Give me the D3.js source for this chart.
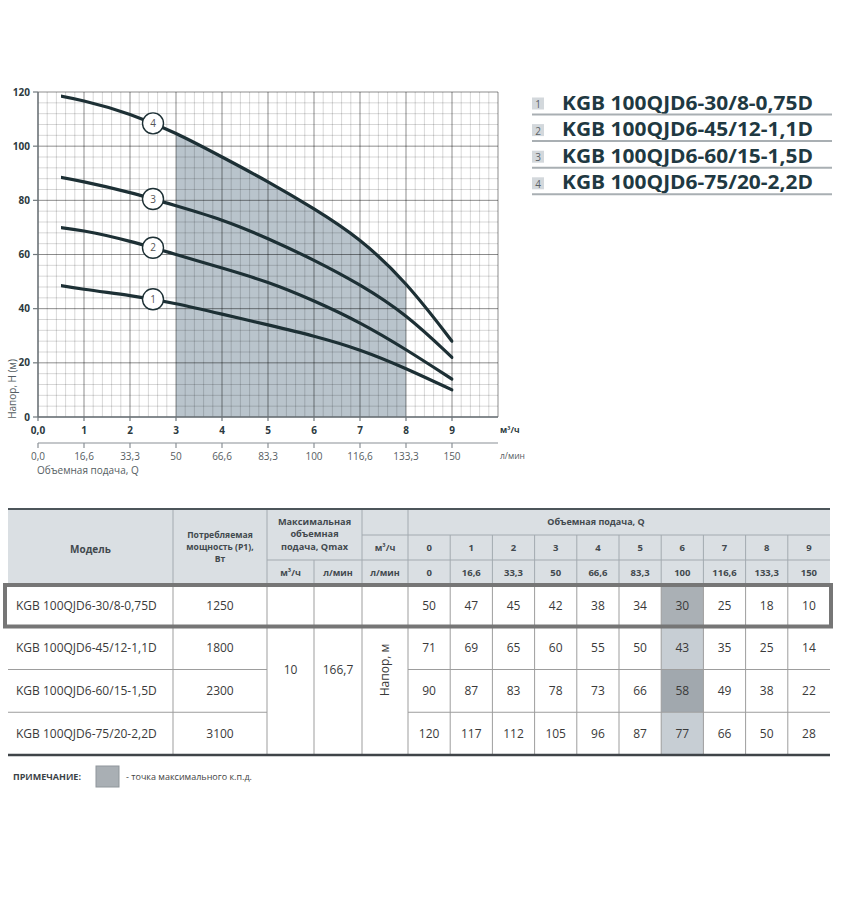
<!DOCTYPE html>
<html><head><meta charset="utf-8">
<script src="https://cdn.jsdelivr.net/npm/d3@7"></script>
<style>body{margin:0;background:#fff} svg{display:block} text{font-family:"Open Sans",sans-serif}</style>
</head><body><svg id="c" width="842" height="900"></svg>
<script>
// ---------- data ----------
const qM3h = [0,1,2,3,4,5,6,7,8,9];
const qLmin = ["0","16,6","33,3","50","66,6","83,3","100","116,6","133,3","150"];
const xTickLabels = ["0,0","1","2","3","4","5","6","7","8","9"];
const lminAxisLabels = ["0,0","16,6","33,3","50","66,6","83,3","100","116,6","133,3","150"];
const yTicks = [0,20,40,60,80,100,120];
const models = ["KGB 100QJD6-30/8-0,75D","KGB 100QJD6-45/12-1,1D","KGB 100QJD6-60/15-1,5D","KGB 100QJD6-75/20-2,2D"];
const power = [1250,1800,2300,3100];
const head1 = [50,47,45,42,38,34,30,25,18,10];
const head2 = [71,69,65,60,55,50,43,35,25,14];
const head3 = [90,87,83,78,73,66,58,49,38,22];
const head4 = [120,117,112,105,96,87,77,66,50,28];
const heads = [head1, head2, head3, head4];
const qmaxM3h = "10", qmaxLmin = "166,7";
const curveStart = 0.5, curveEnd = 9;
const bepRange = [3, 8];
const bepIndex = 6;
const labelQ = 2.5;

// ---------- chart ----------
const svg = d3.select("#c");
const x = d3.scaleLinear().domain([0,10]).range([38,498]);
const y = d3.scaleLinear().domain([0,120]).range([417,92]);
const ink = "#1d3035";

const defs = svg.append("defs");
defs.append("clipPath").attr("id","curveClip").append("rect")
  .attr("x", x(curveStart)).attr("y", 0).attr("width", x(curveEnd) - x(curveStart) + 1.5).attr("height", 900);
defs.append("clipPath").attr("id","shadeClip").append("rect")
  .attr("x", x(bepRange[0])).attr("y", 0).attr("width", x(bepRange[1]) - x(bepRange[0])).attr("height", 900);

const lineGen = d3.line().x((d,i)=>x(qM3h[i])).y(d=>y(d)).curve(d3.curveBasis);
const areaGen = d3.area().x((d,i)=>x(qM3h[i])).y0(y(0)).y1(d=>y(d)).curve(d3.curveBasis);

svg.append("path").attr("d", areaGen(head4)).attr("fill","#b9c4cc").attr("clip-path","url(#shadeClip)");

// grid
const g = svg.append("g");
d3.range(0, 10.001, 0.2).forEach(v=>{
  const major = Math.abs(v - Math.round(v)) < 1e-6;
  g.append("line").attr("x1",x(v)).attr("x2",x(v)).attr("y1",y(0)).attr("y2",y(120))
   .attr("stroke", major ? "rgba(0,0,0,0.45)" : "rgba(0,0,0,0.2)").attr("stroke-width", major?1:0.8);
});
d3.range(0, 120.001, 4).forEach(v=>{
  const major = v % 20 === 0;
  g.append("line").attr("x1",x(0)).attr("x2",x(10)).attr("y1",y(v)).attr("y2",y(v))
   .attr("stroke", major ? "rgba(0,0,0,0.45)" : "rgba(0,0,0,0.2)").attr("stroke-width", major?1:0.8);
});
g.append("line").attr("x1",x(0)).attr("x2",x(0)).attr("y1",y(0)).attr("y2",y(120)).attr("stroke","#6f777c").attr("stroke-width",1.4);
g.append("line").attr("x1",x(0)).attr("x2",x(10)).attr("y1",y(0)).attr("y2",y(0)).attr("stroke","#6f777c").attr("stroke-width",1.4);
yTicks.forEach(v=>{
  g.append("line").attr("x1",x(0)-5).attr("x2",x(0)).attr("y1",y(v)).attr("y2",y(v)).attr("stroke","#6f777c").attr("stroke-width",1.2);
  g.append("text").attr("x",x(0)-8).attr("y",y(v)).attr("dy","0.35em").attr("text-anchor","end")
   .attr("font-size",10).attr("font-weight",700).attr("fill","#2c3a40").text(v);
});
qM3h.forEach((v,i)=>{
  g.append("line").attr("x1",x(v)).attr("x2",x(v)).attr("y1",y(0)).attr("y2",y(0)+4).attr("stroke","#6f777c").attr("stroke-width",1.2);
  g.append("text").attr("x",x(v)).attr("y",430).attr("dy","0.35em").attr("text-anchor","middle")
   .attr("font-size",10).attr("font-weight",700).attr("fill","#2c3a40").text(xTickLabels[i]);
});
g.append("text").attr("x",500).attr("y",430).attr("dy","0.35em").attr("font-size",8.5).attr("font-weight",700).attr("fill","#2c3a40").text("м³/ч");

g.append("line").attr("x1",x(0)).attr("x2",x(10)).attr("y1",443).attr("y2",443).attr("stroke","#8a9096").attr("stroke-width",1.2);
qM3h.forEach((v,i)=>{
  g.append("line").attr("x1",x(v)).attr("x2",x(v)).attr("y1",443).attr("y2",448).attr("stroke","#8a9096").attr("stroke-width",1.2);
  g.append("text").attr("x",x(v)).attr("y",456).attr("dy","0.35em").attr("text-anchor","middle")
   .attr("font-size",10).attr("fill","#555d62").text(lminAxisLabels[i]);
});
g.append("text").attr("x",500).attr("y",456).attr("dy","0.35em").attr("font-size",8.5).attr("fill","#555d62").text("л/мин");
g.append("text").attr("x",37).attr("y",470).attr("dy","0.35em").attr("font-size",10).attr("fill","#555d62").text("Объемная подача, Q");
g.append("text").attr("transform","translate(12,389) rotate(-90)").attr("dy","0.35em").attr("text-anchor","middle")
 .attr("font-size",10).attr("fill","#555d62").text("Напор, H (м)");

// curves
const curves = svg.append("g");
heads.forEach((h,k)=>{
  const p = curves.append("path").attr("d", lineGen(h)).attr("fill","none").attr("stroke",ink)
    .attr("stroke-width",3.2).attr("stroke-linecap","round").attr("clip-path","url(#curveClip)");
  const node = p.node(), L = node.getTotalLength(), tx = x(labelQ);
  let lo = 0, hi = L;
  for (let it=0; it<40; it++){ const m=(lo+hi)/2; if (node.getPointAtLength(m).x < tx) lo=m; else hi=m; }
  const pt = node.getPointAtLength((lo+hi)/2);
  curves.append("circle").attr("cx",pt.x).attr("cy",pt.y).attr("r",10.5).attr("fill","#fff").attr("stroke",ink).attr("stroke-width",1.4);
  curves.append("text").attr("x",pt.x).attr("y",pt.y).attr("dy","0.35em").attr("text-anchor","middle")
    .attr("font-size",10).attr("fill","#555").text(k+1);
});

// legend
const leg = svg.append("g");
models.forEach((m,i)=>{
  const by = 109.5 + i*26.6;
  leg.append("rect").attr("x",532).attr("y",by-12).attr("width",12).attr("height",12).attr("fill","#d3d8dc");
  leg.append("text").attr("x",538).attr("y",by-1.5).attr("text-anchor","middle").attr("font-size",10).attr("fill","#5a6166").text(i+1);
  leg.append("text").attr("x",562).attr("y",by).attr("font-size",20).attr("font-weight",700).attr("fill","#1f3942")
    .attr("textLength",251).attr("lengthAdjust","spacingAndGlyphs").text(m);
  leg.append("line").attr("x1",532).attr("x2",832).attr("y1",by+5).attr("y2",by+5).attr("stroke","#a9afb3").attr("stroke-width",2);
});

// ---------- table ----------
const T = svg.append("g");
const xq = d3.scaleBand().domain(qM3h).range([408,830]);
const yr = d3.scaleBand().domain(models).range([584,755]);
const hTop = 509, hR1 = 535, hR2 = 560, hBot = 583.5;
const hdrFill = "#dadfe3", hdrLine = "#a3aab0", bodyLine = "#9d9d9d", hdrText = "#42494e", bodyText = "#3a3a3a";

T.append("rect").attr("x",8).attr("y",hTop).attr("width",822).attr("height",hBot-hTop).attr("fill",hdrFill);
const bepFills = ["#aab0b5","#c7ced4","#a1a8ae","#c7ced4"];
models.forEach((m,i)=>{
  T.append("rect").attr("x",xq(bepIndex)).attr("y",yr(m)).attr("width",xq.bandwidth()).attr("height",yr.bandwidth()).attr("fill",bepFills[i]);
});
function ln(x1,y1,x2,y2,c,w){T.append("line").attr("x1",x1).attr("y1",y1).attr("x2",x2).attr("y2",y2).attr("stroke",c).attr("stroke-width",w||1);}
ln(362,hR1,830,hR1,hdrLine);
ln(267,hR2,830,hR2,hdrLine);
[173,267,362,408].forEach(c=>ln(c,hTop,c,hBot,hdrLine));
ln(314,hR2,314,hBot,hdrLine);
qM3h.slice(1).forEach(q=>ln(xq(q),hR1,xq(q),hBot,hdrLine));
models.slice(1).forEach(m=>{ ln(8,yr(m),267,yr(m),bodyLine); ln(408,yr(m),830,yr(m),bodyLine); });
[173,267,314,362,408].forEach(c=>ln(c,hBot,c,755,bodyLine));
qM3h.slice(1).forEach(q=>ln(xq(q),hBot,xq(q),755,bodyLine));
ln(8,hTop,830,hTop,"#4c555a",2);
ln(8,755,830,755,"#3f4448",2.5);

function tx(xv,yv,s,opt){
  opt=opt||{};
  return T.append("text").attr("x",xv).attr("y",yv).attr("dy","0.35em").attr("text-anchor",opt.anchor||"middle")
   .attr("font-size",opt.size||9).attr("font-weight",opt.bold?700:400).attr("fill",opt.fill||hdrText).text(s);
}
tx(90.5,549,"Модель",{bold:true,size:10});
["Потребляемая","мощность (P1),","Вт"].forEach((s,i)=>tx(220,535+i*11.8,s,{bold:true,size:8.6}));
["Максимальная","объемная","подача, Qmax"].forEach((s,i)=>tx(314.5,521.5+i*12.5,s,{bold:true,size:9.2}));
tx(290.5,573,"м³/ч",{bold:true,size:9});
tx(338,573,"л/мин",{bold:true,size:9});
tx(596,522,"Объемная подача, Q",{bold:true,size:9});
tx(385,548,"м³/ч",{bold:true,size:9});
tx(385,573,"л/мин",{bold:true,size:9});
qM3h.forEach((q,i)=>{
  tx(xq(q)+xq.bandwidth()/2,548,String(q),{bold:true,size:9.5});
  tx(xq(q)+xq.bandwidth()/2,573,qLmin[i],{bold:true,size:9.5});
});
models.forEach((m,i)=>{
  const cy = yr(m)+yr.bandwidth()/2;
  tx(16,cy,m,{anchor:"start",size:12,fill:bodyText});
  tx(220,cy,String(power[i]),{size:12,fill:bodyText});
  heads[i].forEach((v,j)=>tx(xq(qM3h[j])+xq.bandwidth()/2,cy,String(v),{size:12,fill:bodyText}));
});
tx(290.5,670,qmaxM3h,{size:12,fill:bodyText});
tx(338,670,qmaxLmin,{size:12,fill:bodyText});
T.append("text").attr("transform","translate(385,670) rotate(-90)").attr("dy","0.35em").attr("text-anchor","middle")
 .attr("font-size",12).attr("fill",bodyText).text("Напор, м");
T.append("rect").attr("x",5).attr("y",585).attr("width",826).attr("height",41.5).attr("fill","none").attr("stroke","#767676").attr("stroke-width",4);

tx(13,777,"ПРИМЕЧАНИЕ:",{anchor:"start",bold:true,size:9,fill:"#3b4247"});
T.append("rect").attr("x",96).attr("y",766).attr("width",23).attr("height",21).attr("fill","#a9afb4").attr("stroke","#8f969b");
tx(126,777,"- точка максимального к.п.д.",{anchor:"start",size:9,fill:"#444"});
</script></body></html>
